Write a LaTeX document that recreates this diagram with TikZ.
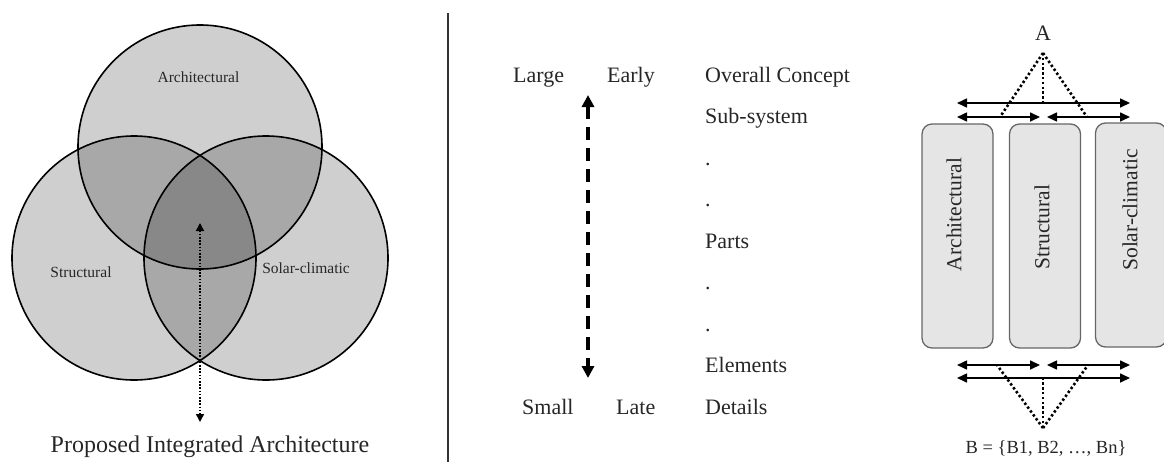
\documentclass[tikz,border=0pt]{standalone}
\usepackage{fontspec}
\setmainfont{Liberation Serif}
\usetikzlibrary{arrows.meta}
\begin{document}
\begin{tikzpicture}[x=1pt,y=-1pt,
  venn/.style={circle, minimum size=244pt, inner sep=0pt, draw=black, line width=1.6pt, fill=black, fill opacity=0.19},
  vlabel/.style={font=\fontsize{15.5}{18}\selectfont, text=black!85, inner sep=0pt},
  mtext/.style={font=\fontsize{22}{26}\selectfont, anchor=base west, inner sep=0pt, text=black!85},
  panel/.style={draw=black!60, line width=1.3pt, fill=black!10, rounded corners=10pt, minimum width=71pt, minimum height=224pt, inner sep=0pt},
  plabel/.style={rotate=90, font=\fontsize{21.5}{24}\selectfont, inner sep=0pt, text=black!85},
  harrow/.style={line width=1.6pt, {Triangle[length=10pt,width=9pt]}-{Triangle[length=10pt,width=9pt]}},
  dotline/.style={line width=2.6pt, dash pattern=on 2.4pt off 2.4pt},
]
\useasboundingbox (0,0) rectangle (1164,461);

% ---------- Venn diagram ----------
\node[venn] (cA) at (200,147) {};
\node[venn] (cS) at (134,258) {};
\node[venn] (cC) at (266,258) {};
\node[vlabel] (lA) at (198.5,77) {Architectural};
\node[vlabel] (lS) at (81,272) {Structural};
\node[vlabel] (lC) at (306,268) {Solar-climatic};
\coordinate (vtop) at (200,223);
\coordinate (vbot) at (200,422);
\draw[line width=1.4pt, dash pattern=on 1.6pt off 1.6pt,
      {Triangle[length=8pt,width=8pt]}-{Triangle[length=8pt,width=8pt]}] (vtop) -- (vbot);
\node[font=\fontsize{24}{28}\selectfont, text=black!85, inner sep=0pt] (pia) at (210,447) {Proposed Integrated Architecture};

% ---------- divider ----------
\coordinate (d1) at (448,13);
\coordinate (d2) at (448,462);
\draw[line width=1.5pt, black!80] (d1) -- (d2);

% ---------- middle scale ----------
\node[mtext] (large) at (513,82) {Large};
\node[mtext] (early) at (607,82) {Early};
\node[mtext] (t0) at (705,82) {Overall Concept};
\node[mtext] (t1) at (705,123.5) {Sub-system};
\node[mtext] (t2) at (705,165) {.};
\node[mtext] (t3) at (705,206.5) {.};
\node[mtext] (t4) at (705,248) {Parts};
\node[mtext] (t5) at (705,289.5) {.};
\node[mtext] (t6) at (705,331) {.};
\node[mtext] (t7) at (705,372.5) {Elements};
\node[mtext] (t8) at (705,414) {Details};
\node[mtext] (small) at (522,414) {Small};
\node[mtext] (late) at (616,414) {Late};
\coordinate (mtop) at (588,95);
\coordinate (mbot) at (588,378);
\draw[line width=3.5pt, dash pattern=on 13pt off 8pt,
      {Triangle[length=12pt,width=12pt]}-{Triangle[length=12pt,width=12pt]}] (mtop) -- (mbot);

% ---------- right panels ----------
\node[panel] (pA) at (957.5,236) {};
\node[panel] (pS) at (1045,236) {};
\node[panel] (pC) at (1131,235) {};
\node[plabel] (lpA) at (954,214.5) {Architectural};
\node[plabel] (lpS) at (1042,227) {Structural};
\node[plabel] (lpC) at (1130,210) {Solar-climatic};

% top
\node[font=\fontsize{22}{26}\selectfont, text=black!85, inner sep=0pt] (A) at (1043,33) {A};
\coordinate (ta) at (1043,53);
\coordinate (t1l) at (957,103);
\coordinate (t1r) at (1130,103);
\coordinate (t1m) at (1043,103);
\coordinate (t2a) at (957,117);
\coordinate (t2b) at (1040,117);
\coordinate (t2c) at (1047,117);
\coordinate (t2d) at (1130,117);
\coordinate (t2l) at (1000,117);
\coordinate (t2r) at (1087,117);
\draw[dotline] (ta) -- (t1m);
\draw[dotline] (ta) -- (t2l);
\draw[dotline] (ta) -- (t2r);
\draw[harrow] (t1l) -- (t1r);
\draw[harrow] (t2a) -- (t2b);
\draw[harrow] (t2c) -- (t2d);

% bottom
\node[font=\fontsize{18.5}{22}\selectfont, text=black!85, inner sep=0pt] (B) at (1046,448) {B = \{B1, B2, \dots, Bn\}};
\coordinate (ba) at (1043,428);
\coordinate (b1a) at (957,365);
\coordinate (b1b) at (1040,365);
\coordinate (b1c) at (1047,365);
\coordinate (b1d) at (1130,365);
\coordinate (b1l) at (997,365);
\coordinate (b1r) at (1088,365);
\coordinate (b2l) at (957,378);
\coordinate (b2r) at (1130,378);
\coordinate (b2m) at (1043,378);
\draw[dotline] (ba) -- (b2m);
\draw[dotline] (ba) -- (b1l);
\draw[dotline] (ba) -- (b1r);
\draw[harrow] (b1a) -- (b1b);
\draw[harrow] (b1c) -- (b1d);
\draw[harrow] (b2l) -- (b2r);
\end{tikzpicture}
\end{document}
